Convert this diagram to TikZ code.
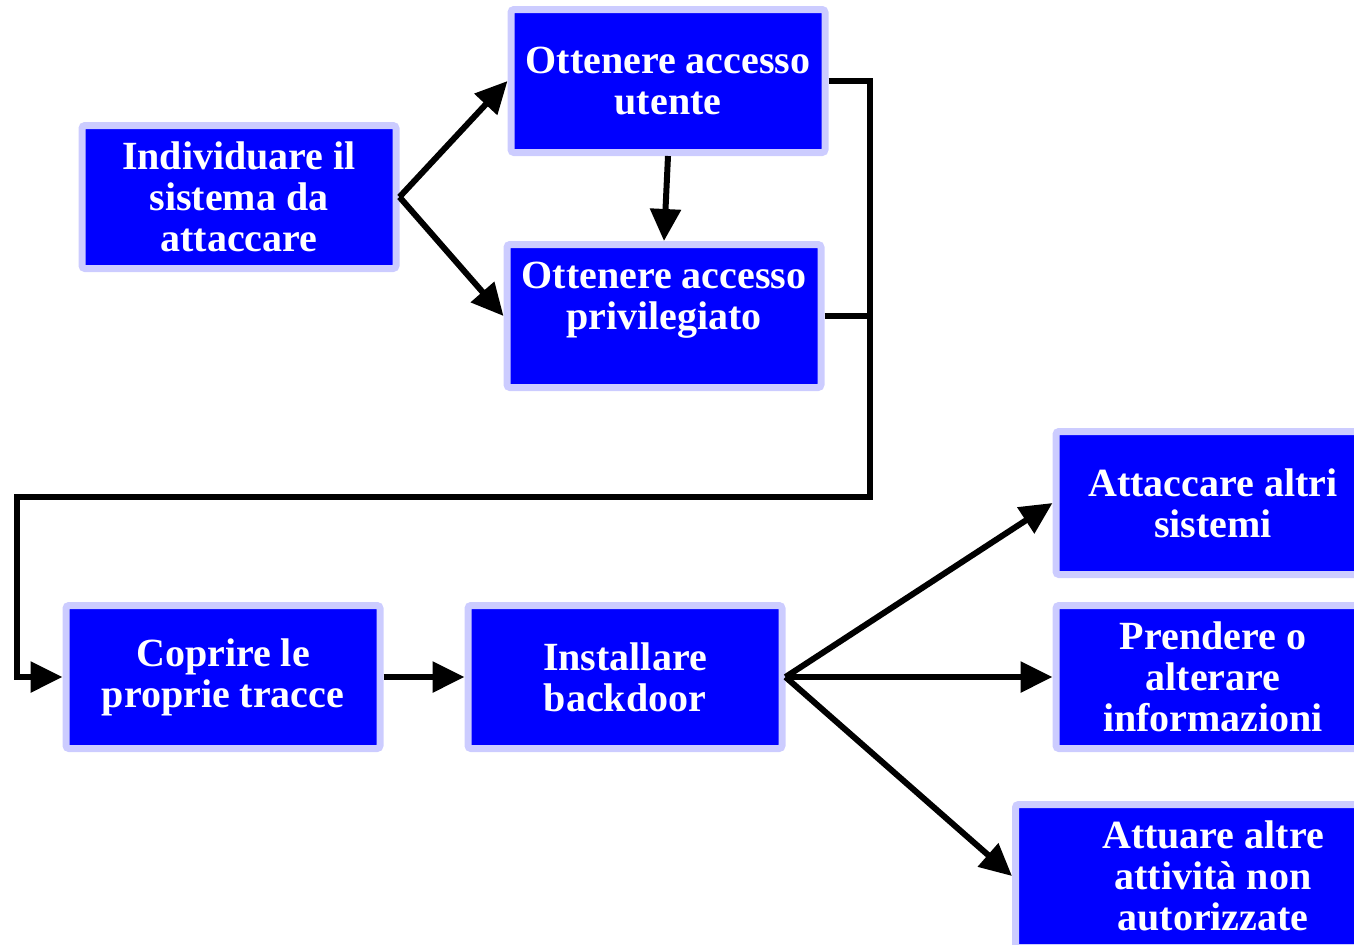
\documentclass[tikz,border=0pt]{standalone}
\usepackage{fontspec}
\setmainfont{Liberation Serif}
\usetikzlibrary{arrows.meta,positioning}
\definecolor{boxblue}{RGB}{0,0,255}
\definecolor{boxrim}{RGB}{204,204,255}

\begin{document}
\begin{tikzpicture}[
    x=0.5pt, y=-0.5pt,
    font=\fontsize{20}{20.5}\selectfont\bfseries,
    >={Triangle[length=16pt,width=15pt]},
    stepbox/.style={rectangle, draw=boxrim, line width=3.5pt, fill=boxblue, text=white,
        rounded corners=1.5pt, minimum width=157pt, minimum height=71.5pt, align=center, inner sep=0pt},
    link/.style={line width=3pt, ->}
]
\useasboundingbox (0,0) rectangle (1354,944);
\clip (0,0) rectangle (1354,944);

\node[stepbox] (find) at (239,197) {Individuare il\\sistema da\\attaccare};
\node[stepbox] (user) at (668,81) {Ottenere accesso\\utente};
\node[stepbox] (root) at (664,316) {Ottenere accesso\\privilegiato\\\mbox{}};
\node[stepbox] (hide) at (223,677) {Coprire le\\proprie tracce};
\node[stepbox, right=40.5pt of hide] (back) {Installare\\backdoor};
\node[stepbox] (other) at (1213,503) {Attaccare altri\\sistemi};
\node[stepbox] (data) at (1213,677) {Prendere o\\alterare\\informazioni};
\node[stepbox, minimum width=197.5pt] (misc) at (1213,876) {Attuare altre\\attività non\\autorizzate};

% accesso
\draw[link] (find.east) -- (user.west);
\draw[link] (find.east) -- (root.west);
\draw[link] (user.south) -- (root.north);

% ritorno verso il basso
\coordinate (bus) at (870,497);
\coordinate (turn) at (17,497);
\draw[link] (user.east) -| (bus) -- (turn) |- (hide.west);
\draw[line width=3pt] (root.east) -- (root.east -| bus);

\draw[link] (hide) -- (back);
\foreach \x in {other,data,misc} {
    \draw[link] (back.east) -- (\x.west);
}
\end{tikzpicture}
\end{document}
